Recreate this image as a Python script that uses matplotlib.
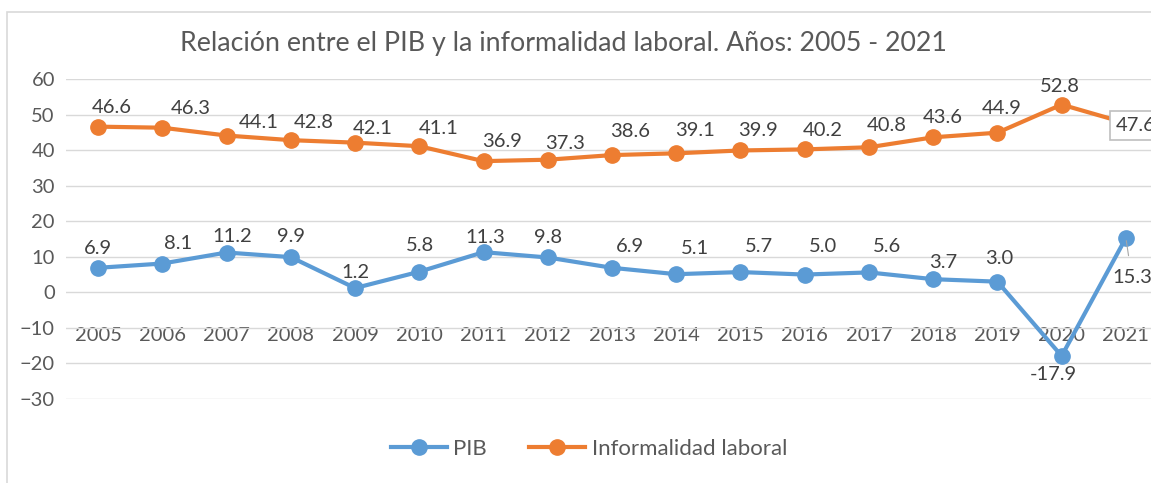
import numpy as np
import matplotlib.pyplot as plt
from matplotlib.patches import Rectangle

years = ['2005', '2006', '2007', '2008', '2009', '2010', '2011', '2012', '2013',
         '2014', '2015', '2016', '2017', '2018', '2019', '2020', '2021']
pib = [6.9, 8.1, 11.2, 9.9, 1.2, 5.8, 11.3, 9.8, 6.9, 5.1, 5.7, 5.0, 5.6, 3.7, 3.0, -17.9, 15.3]
informalidad = [46.6, 46.3, 44.1, 42.8, 42.1, 41.1, 36.9, 37.3, 38.6, 39.1, 39.9, 40.2, 40.8,
                43.6, 44.9, 52.8, 47.6]

# label offsets in pixels (Excel labels were dragged around a bit)
inf_dx = [14, 28, 32, 23, 18, 19, 19, 17, 18, 19, 18, 18, 18, 10, 4, -2, 10]
inf_dy = [19, 19, 13, 18, 14, 18, 20, 16, 24, 23, 20, 19, 22, 20, 24, 18, -2]
pib_dx = [0, 16, 6, 0, 0, 1, 2, 0, 18, 19, 18, 18, 18, 10, 2, -8, 6]
pib_dy = [19, 20, 16, 21, 16, 26, 15, 20, 21, 26, 26, 28, 26, 17, 23, -19, -40]

blue = '#5B9BD5'
orange = '#ED7D31'
txt = '#404040'
gray = '#595959'

plt.rcParams['font.family'] = ['Lato', 'DejaVu Sans']

W, H = 1151, 483
fig = plt.figure(figsize=(W / 100, H / 100), dpi=100)
fig.patches.append(Rectangle((7 / W, -0.1), 1.2, 1 - 12 / H + 0.1, transform=fig.transFigure,
                             fill=False, edgecolor='#d9d9d9', linewidth=1.2))

ax = fig.add_axes([66 / W, 1 - 399 / H, (1158 - 66) / W, (399 - 79) / H])
x = np.arange(len(years))

ax.plot(x, pib, color=blue, lw=3, marker='o', ms=11, label='PIB', zorder=3)
ax.plot(x, informalidad, color=orange, lw=3, marker='o', ms=11, label='Informalidad laboral', zorder=3)

ax.set_xlim(-0.5, len(years) - 0.5)
ax.set_ylim(-30, 60)
ax.set_yticks(range(-30, 61, 10))
ax.grid(axis='y', color='#d9d9d9', lw=1)
ax.set_axisbelow(True)
for s in ax.spines.values():
    s.set_visible(False)
ax.spines['bottom'].set_position(('data', 0))
ax.set_xticks(x)
ax.set_xticklabels(years)
ax.tick_params(axis='both', length=0, labelsize=14.5, labelcolor=gray)
ax.tick_params(axis='x', pad=25)
ax.tick_params(axis='y', pad=8)

for i, v in enumerate(informalidad):
    if i == len(informalidad) - 1:
        ax.annotate(f'{v:.1f}', (x[i], v), xytext=(inf_dx[i], inf_dy[i]), textcoords='offset pixels',
                    ha='center', va='center', fontsize=14.5, color=txt, zorder=5,
                    bbox=dict(boxstyle='square,pad=0.3', fc='white', ec='#bfbfbf', lw=1.2))
    else:
        ax.annotate(f'{v:.1f}', (x[i], v), xytext=(inf_dx[i], inf_dy[i]), textcoords='offset pixels',
                    ha='center', va='center', fontsize=14.5, color=txt)

for i, v in enumerate(pib):
    if i == len(pib) - 1:
        ax.annotate(f'{v:.1f}', (x[i], v), xytext=(pib_dx[i], pib_dy[i]), textcoords='offset pixels',
                    ha='center', va='center', fontsize=14.5, color=txt,
                    arrowprops=dict(arrowstyle='-', color='#a6a6a6', lw=0.8, shrinkA=8, shrinkB=2))
    else:
        ax.annotate(f'{v:.1f}', (x[i], v), xytext=(pib_dx[i], pib_dy[i]), textcoords='offset pixels',
                    ha='center', va='center', fontsize=14.5, color=txt)

fig.text(563 / W, 1 - 43 / H, 'Relación entre el PIB y la informalidad laboral. Años: 2005 - 2021',
         ha='center', va='center', fontsize=19.3, color=gray)

fig.legend(loc='center', bbox_to_anchor=(589 / W, 1 - 449 / H), ncol=2, frameon=False,
           fontsize=16, labelcolor=gray, handlelength=2.5, columnspacing=1.9, handletextpad=0.3)

fig.savefig('out.png', dpi=100)
